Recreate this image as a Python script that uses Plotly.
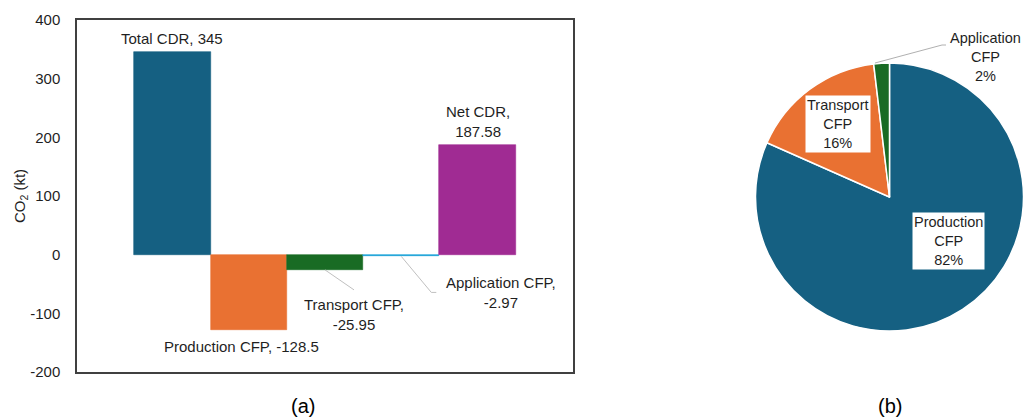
import plotly.graph_objects as go

# ---- data ----
bar_categories = ["Total CDR", "Production CFP", "Transport CFP", "Application CFP", "Net CDR"]
bar_values = [345, -128.5, -25.95, -2.97, 187.58]
bar_colors = ["#156082", "#E97132", "#196B24", "#0F9ED5", "#A02B93"]
y_ticks = [-200, -100, 0, 100, 200, 300, 400]
y_tick_text = ["-200", "-100", "0", "100", "200", "300", "400"]

pie_labels = ["Production CFP", "Transport CFP", "Application CFP"]
pie_values = [128.5, 25.95, 2.97]
pie_colors = ["#156082", "#E97132", "#196B24"]

W, H = 1024, 417
FONT = "Liberation Sans, Arial, sans-serif"
TXT = "#1f1f1f"


def px(x):
    return x / W


def py(y):
    return 1 - y / H


xs = list(range(len(bar_categories)))

fig = go.Figure()
fig.add_trace(go.Bar(
    x=xs, y=bar_values, width=1,
    marker=dict(color=bar_colors, line=dict(color=bar_colors, width=0.6)),
    hovertext=bar_categories, showlegend=False,
))

fig.add_trace(go.Pie(
    labels=pie_labels, values=pie_values, sort=False, direction="clockwise",
    rotation=0, textinfo="none",
    marker=dict(colors=pie_colors, line=dict(color="white", width=1.5)),
    domain=dict(x=[px(889.5 - 134), px(889.5 + 134)], y=[(220 - 134) / H, (220 + 134) / H]),
    showlegend=False,
))

annotations = []
f15 = dict(family=FONT, size=15, color=TXT)

# bar labels
bar_label_cfg = {
    0: dict(yanchor="bottom", xshift=0, yshift=3, text=f"{bar_categories[0]}, {bar_values[0]:g}"),
    1: dict(yanchor="top", xshift=-7, yshift=-6, text=f"{bar_categories[1]}, {bar_values[1]:g}"),
    2: dict(yanchor="middle", xshift=29, yshift=-45, text=f"{bar_categories[2]},<br>{bar_values[2]:g}"),
    3: dict(yanchor="middle", xshift=100, yshift=-36, text=f"{bar_categories[3]},<br>{bar_values[3]:g}"),
    4: dict(yanchor="bottom", xshift=0, yshift=3, text=f"{bar_categories[4]},<br>{bar_values[4]:g}"),
}
for i, cfg in bar_label_cfg.items():
    annotations.append(dict(
        x=xs[i], y=bar_values[i], xref="x", yref="y", showarrow=False,
        font=f15, xanchor="center", **cfg,
    ))

shapes = []
# leader lines for small bars (pixel offsets from the bar end)
leader_paths = {2: "M0,0 L29,-20", 3: "M0,0 L30,-36 L35,-36"}
for i, path in leader_paths.items():
    shapes.append(dict(
        type="path", xref="x", yref="y", xsizemode="pixel", ysizemode="pixel",
        xanchor=xs[i], yanchor=bar_values[i], path=path,
        line=dict(color="#c0c0c0", width=1),
    ))

# pie labels
total = sum(pie_values)
pcts = [round(100 * v / total) for v in pie_values]


def pie_text(lbl, p):
    a, b = lbl.split(" ")
    return f"{a}<br>{b}<br>{p}%"


f14 = dict(family=FONT, size=14.5, color=TXT)
common = dict(xref="paper", yref="paper", showarrow=False, xanchor="center", yanchor="middle")
annotations.append(dict(x=px(948), y=py(241.5), text=pie_text(pie_labels[0], pcts[0]), font=f14,
                        bgcolor="white", borderpad=1, **common))
annotations.append(dict(x=px(837.5), y=py(124.5), text=pie_text(pie_labels[1], pcts[1]), font=f14,
                        bgcolor="white", borderpad=1, **common))
annotations.append(dict(x=px(985), y=py(57), text=pie_text(pie_labels[2], pcts[2]), font=f14, **common))
shapes.append(dict(type="path", xref="paper", yref="paper",
                   path=f"M{px(875)},{py(63)} L{px(942)},{py(45)} L{px(946)},{py(45)}",
                   line=dict(color="#b0b0b0", width=1)))

# panel captions
annotations.append(dict(x=px(303), y=py(406), text="(a)", font=dict(family=FONT, size=20, color="#000"), **common))
annotations.append(dict(x=px(890), y=py(406), text="(b)", font=dict(family=FONT, size=20, color="#000"), **common))

fig.update_layout(
    width=W, height=H,
    margin=dict(l=0, r=0, t=0, b=0, autoexpand=False),
    paper_bgcolor="white", plot_bgcolor="white",
    bargap=0,
    annotations=annotations,
    shapes=shapes,
    xaxis=dict(domain=[px(77), px(573)], range=[-1.25, 5.25], showticklabels=False, ticks="",
               showgrid=False, zeroline=False, showline=True, mirror=True, automargin=False,
               linecolor="#404040", linewidth=1.5, fixedrange=True),
    yaxis=dict(domain=[py(372), py(20)], range=[-200, 400], tickvals=y_ticks, ticktext=y_tick_text,
               tickfont=dict(family=FONT, size=15, color=TXT), ticks="", ticklabelstandoff=12,
               showgrid=False, zeroline=False, showline=True, mirror=True, automargin=False,
               linecolor="#404040", linewidth=1.5,
               title=dict(text="CO<sub>2</sub> (kt)", font=dict(family=FONT, size=15, color=TXT), standoff=1)),
    font=dict(family=FONT, color=TXT),
)

fig.write_html("out.html")
